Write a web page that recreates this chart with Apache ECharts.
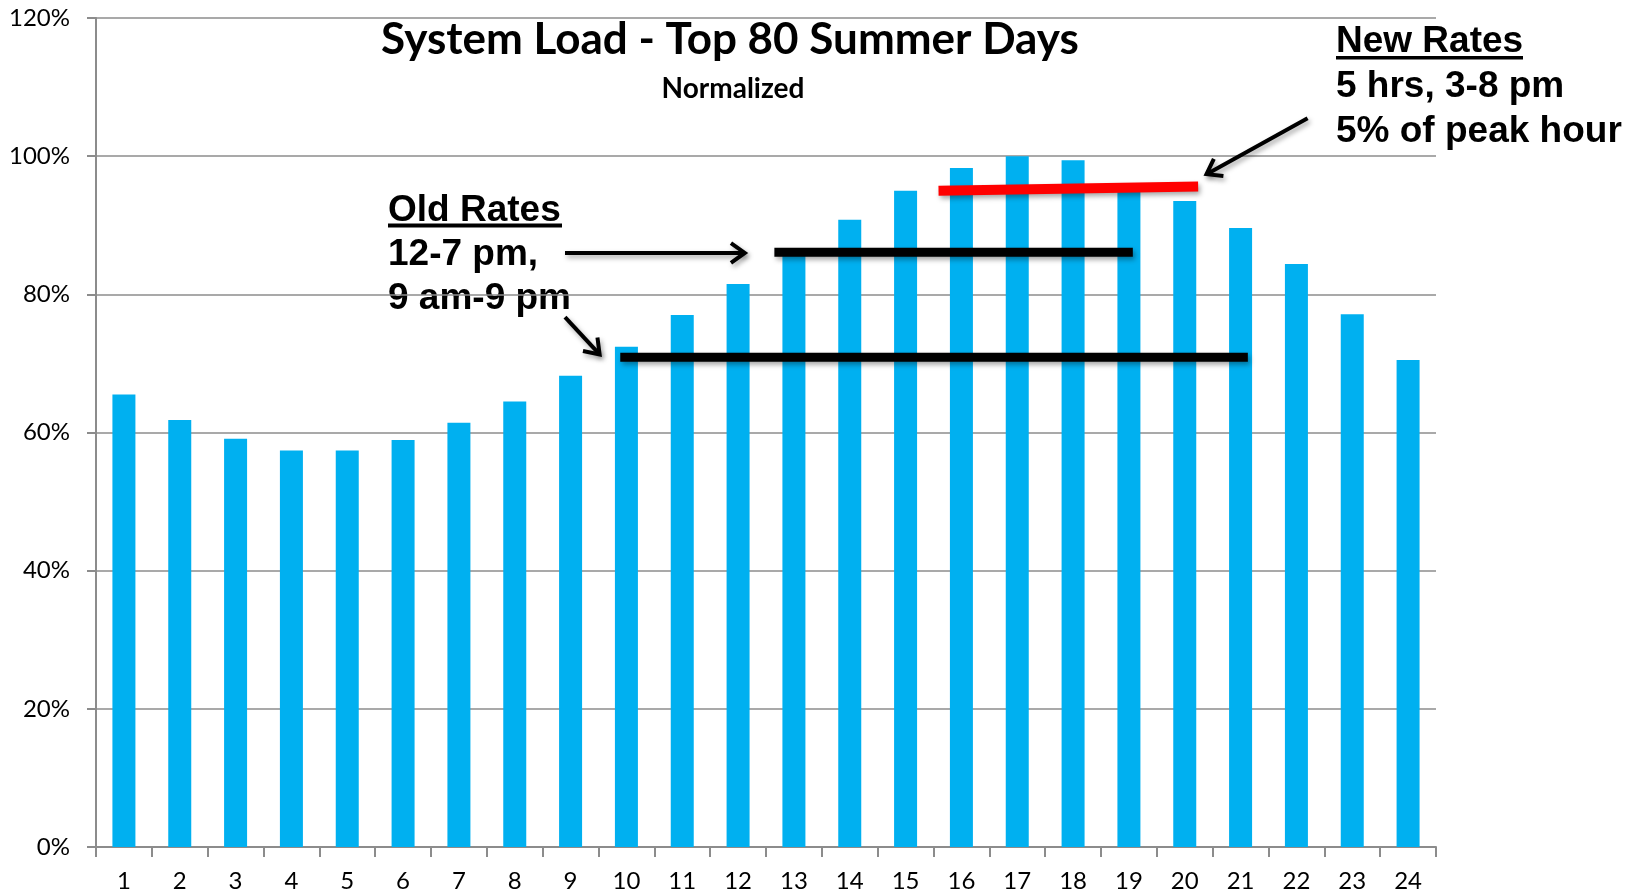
<!DOCTYPE html>
<html>
<head>
<meta charset="utf-8">
<script src="https://cdn.jsdelivr.net/npm/echarts@6/dist/echarts.min.js"></script>
<style>
html,body{margin:0;padding:0;background:#fff;}
#chart{width:1641px;height:895px;}
</style>
</head>
<body>
<div id="chart"></div>
<script>
// ---- data ----
const hours = ['1','2','3','4','5','6','7','8','9','10','11','12','13','14','15','16','17','18','19','20','21','22','23','24'];
const load = [65.5, 61.8, 59.1, 57.4, 57.4, 58.9, 61.4, 64.5, 68.2, 72.4, 77.0, 81.5, 86.0, 90.8, 95.0, 98.3, 100, 99.4, 96.1, 93.5, 89.6, 84.4, 77.1, 70.5];
const yTicks = [0, 20, 40, 60, 80, 100, 120];
const titleText = 'System Load - Top 80 Summer Days';
const subtitleText = 'Normalized';
const newRatesHead = 'New Rates';
const newRatesLines = ['5 hrs, 3-8 pm', '5% of peak hour'];
const oldRatesHead = 'Old Rates';
const oldRatesLines = ['12-7 pm,', '9 am-9 pm'];
// annotation segments in data units (x: hour position 0..24, y: %)
const newRateBar = [[15.09, 95.0], [19.74, 95.6]];
const oldRateBar1 = [[12.15, 86.1], [18.57, 86.1]];
const oldRateBar2 = [[9.39, 70.9], [20.63, 70.9]];
const arrow1 = [[8.40, 86.0], [11.62, 86.0]];
const arrow2 = [[8.40, 76.7], [9.02, 71.3]];
const arrow3 = [[21.70, 105.5], [19.89, 97.4]];

const segs = [
  {p: newRateBar, color: '#FF0000', w: 10, arrow: false},
  {p: oldRateBar1, color: '#000000', w: 9, arrow: false},
  {p: oldRateBar2, color: '#000000', w: 9, arrow: false},
  {p: arrow1, color: '#000000', w: 4, arrow: true},
  {p: arrow2, color: '#000000', w: 4, arrow: true},
  {p: arrow3, color: '#000000', w: 4, arrow: true}
];

const chart = echarts.init(document.getElementById('chart'), null, {renderer: 'canvas'});
const boldArial = '"Liberation Sans", Arial, sans-serif';
const calib = 'Lato, "Open Sans", sans-serif';

const shadow = {shadowColor: 'rgba(0,0,0,0.35)', shadowBlur: 5, shadowOffsetX: 2, shadowOffsetY: 3};

function renderSeg(params, api) {
  const s = segs[params.dataIndex];
  const a = api.coord(s.p[0]);
  const b = api.coord(s.p[1]);
  const children = [{
    type: 'line',
    shape: {x1: a[0], y1: a[1], x2: b[0], y2: b[1]},
    style: Object.assign({stroke: s.color, lineWidth: s.w, lineCap: 'butt'}, shadow)
  }];
  if (s.arrow) {
    const ang = Math.atan2(b[1] - a[1], b[0] - a[0]);
    const L = 17, spread = 0.62;
    const p1 = [b[0] - L * Math.cos(ang - spread), b[1] - L * Math.sin(ang - spread)];
    const p2 = [b[0] - L * Math.cos(ang + spread), b[1] - L * Math.sin(ang + spread)];
    children.push({
      type: 'polyline',
      shape: {points: [p1, b, p2]},
      style: Object.assign({stroke: s.color, lineWidth: 4, fill: null, lineJoin: 'miter'}, shadow)
    });
  }
  return {type: 'group', children: children};
}

function annText(str, x, y) {
  return {type: 'text', x: x, y: y,
    style: {text: str, font: 'bold 37px ' + boldArial, fill: '#000', verticalAlign: 'middle', align: 'left'}};
}

const option = {
  backgroundColor: '#ffffff',
  animation: false,
  title: [
    {text: titleText, left: 725, top: 13, textAlign: 'center',
     textStyle: {fontFamily: calib, fontWeight: 'bold', fontSize: 44, color: '#000'}},
    {text: subtitleText, left: 728, top: 70, textAlign: 'center',
     textStyle: {fontFamily: calib, fontWeight: 'bold', fontSize: 28, color: '#000'}}
  ],
  grid: {left: 96, right: 205, top: 18, bottom: 48, containLabel: false},
  xAxis: [{
    type: 'category',
    data: hours,
    boundaryGap: true,
    axisLine: {lineStyle: {color: '#8c8c8c', width: 2}},
    axisTick: {show: true, interval: 0, length: 10, lineStyle: {color: '#8c8c8c', width: 2}},
    axisLabel: {interval: 0, margin: 22, fontFamily: calib, fontSize: 24, color: '#000'}
  }, {
    type: 'value', min: 0, max: 24, show: false
  }],
  yAxis: [{
    type: 'value',
    min: yTicks[0], max: yTicks[yTicks.length - 1], interval: 20,
    axisLine: {show: true, lineStyle: {color: '#8c8c8c', width: 2}},
    axisTick: {show: true, length: 9, lineStyle: {color: '#8c8c8c', width: 2}},
    axisLabel: {margin: 26, fontFamily: calib, fontSize: 24, color: '#000', formatter: '{value}%'},
    splitLine: {show: true, lineStyle: {color: '#8c8c8c', width: 1.5}}
  }],
  series: [{
    type: 'bar',
    data: load,
    barWidth: 23,
    itemStyle: {color: '#00B0F0'},
    xAxisIndex: 0, yAxisIndex: 0
  }, {
    type: 'custom',
    xAxisIndex: 1, yAxisIndex: 0,
    renderItem: renderSeg,
    data: segs.map((s, i) => [i]),
    z: 5,
    silent: true
  }],
  graphic: [
    annText(newRatesHead, 1336, 42),
    {type: 'rect', x: 1336, y: 56, shape: {width: 187, height: 3.5}, style: {fill: '#000'}},
    annText(newRatesLines[0], 1336, 86.5),
    annText(newRatesLines[1], 1336, 131.5),
    annText(oldRatesHead, 388, 211),
    {type: 'rect', x: 388, y: 223.5, shape: {width: 174, height: 4}, style: {fill: '#000'}},
    annText(oldRatesLines[0], 388, 255),
    annText(oldRatesLines[1], 388, 299)
  ]
};
chart.setOption(option);
</script>
</body>
</html>
